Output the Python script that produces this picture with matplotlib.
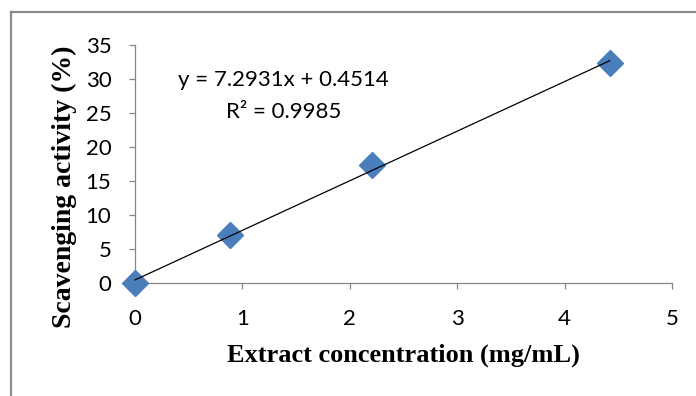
import numpy as np
import matplotlib
matplotlib.use("Agg")
import matplotlib.pyplot as plt
from matplotlib.lines import Line2D

# concentration (mg/mL) vs scavenging activity (%)
conc = [0.0, 0.885, 2.21, 4.42]
activity = [0.0, 7.0, 17.3, 32.3]
slope, intercept = 7.2931, 0.4514
r2 = 0.9985

x_ticks = [0, 1, 2, 3, 4, 5]
y_ticks = [0, 5, 10, 15, 20, 25, 30, 35]

fig = plt.figure(figsize=(6.96, 3.96), dpi=100)
ax = fig.add_axes([0.194, 0.2854, 0.7716, 0.6010])

ax.plot(conc, activity, linestyle="none", marker="D", markersize=13,
        color="#4a7ebb", zorder=3, clip_on=False)

# linear trendline over the measured range
xs = np.array([conc[0], conc[-1]])
ax.plot(xs, slope * xs + intercept, color="black", lw=0.9, zorder=4,
        clip_on=False)

ax.set_xlim(0, 5)
ax.set_ylim(0, 35)
ax.set_xticks(x_ticks)
ax.set_yticks(y_ticks)
for s in ["top", "right"]:
    ax.spines[s].set_visible(False)
for s in ["left", "bottom"]:
    ax.spines[s].set_color("#868686")
    ax.spines[s].set_linewidth(0.9)
ax.tick_params(direction="out", length=4, width=0.9, color="#868686",
               labelsize=16)
ax.tick_params(axis="x", pad=15)
ax.tick_params(axis="y", pad=13)
for lab in ax.get_xticklabels() + ax.get_yticklabels():
    lab.set_family("Lato")

ax.set_xlabel("Extract concentration (mg/mL)", family="Liberation Serif",
              fontweight="bold", fontsize=19, labelpad=10)
ax.set_ylabel("Scavenging activity (%)", family="Liberation Serif",
              fontweight="bold", fontsize=20)
ax.yaxis.set_label_coords(-0.108, 0.403)

ax.text(1.38, 29.85, f"y = {slope}x + {intercept}", family="Lato",
        fontsize=16, ha="center", va="center")
ax.text(1.38, 25.1, f"R² = {r2}", family="Lato", fontsize=16,
        ha="center", va="center")

# chart area border
fig.add_artist(Line2D([11/696, 11/696], [0, 1 - 12/396],
                      color="#8c8c8c", lw=1.6))
fig.add_artist(Line2D([11/696, 1], [1 - 12/396, 1 - 12/396],
                      color="#8c8c8c", lw=1.6))

fig.savefig("out.png", dpi=100)
